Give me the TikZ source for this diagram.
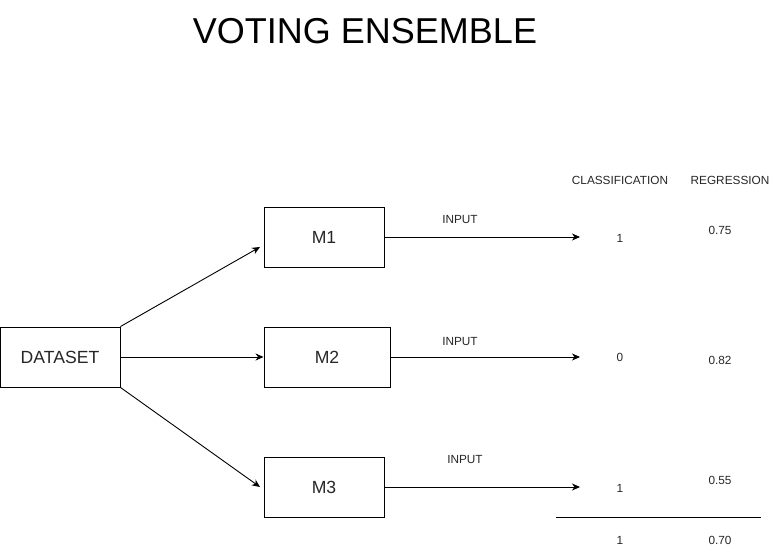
\documentclass[tikz,border=0pt]{standalone}
\usepackage{fontspec}
\setmainfont{Liberation Sans}
\usetikzlibrary{arrows.meta}
\begin{document}
\begin{tikzpicture}[x=1pt,y=-1pt,
  box/.style={draw,line width=0.9pt,minimum width=120pt,minimum height=60pt,inner sep=0pt,font=\fontsize{17.6}{20}\selectfont,text=black!85},
  lbl/.style={inner sep=0pt,font=\fontsize{11.8}{14}\selectfont,text=black!85},
  arr/.style={line width=0.9pt,-{Stealth[length=8pt,width=7pt,inset=2.5pt]}}]
\useasboundingbox (0,0) rectangle (781,555);
\node[inner sep=0pt,font=\fontsize{36}{40}\selectfont] (title) at (365,31) {VOTING ENSEMBLE};
\node[box] (ds) at (60,357) {DATASET};
\node[box] (m1) at (324,237) {M1};
\node[box,minimum width=126pt] (m2) at (327,357) {M2};
\node[box] (m3) at (324,487) {M3};
\coordinate (e1) at (260,247);
\coordinate (e3) at (260,487);
\draw[arr] (ds.north east) -- (e1);
\draw[arr] (ds.east) -- (m2.west);
\draw[arr] (ds.south east) -- (e3);
\coordinate (o1) at (580,237);
\coordinate (o2) at (580,357);
\coordinate (o3) at (580,487);
\draw[arr] (m1.east) -- (o1);
\draw[arr] (m2.east) -- (o2);
\draw[arr] (m3.east) -- (o3);
\node[lbl] (i1) at (460,219) {INPUT};
\node[lbl] (i2) at (460,341) {INPUT};
\node[lbl] (i3) at (465,459) {INPUT};
\node[lbl] (hc) at (620,180) {CLASSIFICATION};
\node[lbl] (hr) at (730,180) {REGRESSION};
\node[lbl] (c1) at (620,238) {1};
\node[lbl] (c2) at (620,357) {0};
\node[lbl] (c3) at (620,488) {1};
\node[lbl] (c4) at (620,540) {1};
\node[lbl] (r1) at (720,230) {0.75};
\node[lbl] (r2) at (720,360) {0.82};
\node[lbl] (r3) at (720,480) {0.55};
\node[lbl] (r4) at (720,540) {0.70};
\coordinate (la) at (556,517);
\coordinate (lb) at (761,517);
\draw[line width=0.9pt] (la) -- (lb);
\end{tikzpicture}
\end{document}
